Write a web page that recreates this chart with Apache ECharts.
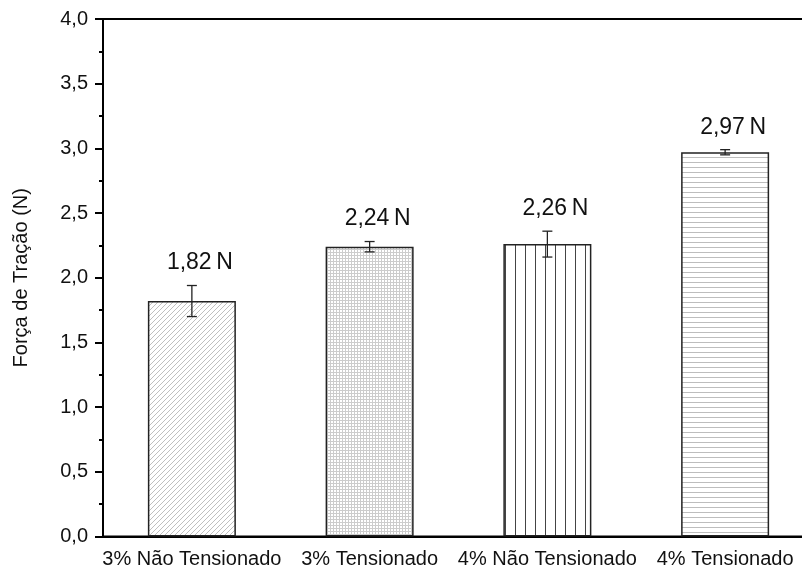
<!DOCTYPE html>
<html>
<head>
<meta charset="utf-8">
<script src="https://cdn.jsdelivr.net/npm/echarts@6/dist/echarts.min.js"></script>
<style>
  html, body { margin: 0; padding: 0; background: #fff; }
  #main { width: 802px; height: 572px; }
</style>
</head>
<body>
<div id="main"></div>
<script>
var categories = ['3% Não Tensionado', '3% Tensionado', '4% Não Tensionado', '4% Tensionado'];
var forces = [1.82, 2.24, 2.26, 2.97];
var errors = [0.12, 0.04, 0.10, 0.02];
var yTicks = [0, 0.5, 1, 1.5, 2, 2.5, 3, 3.5, 4];

var fontName = '"Liberation Sans", Arial, Helvetica, sans-serif';

// hachuras de cada barra
function makeTile(w, h, draw) {
  var c = document.createElement('canvas');
  c.width = w;
  c.height = h;
  var ctx = c.getContext('2d');
  ctx.fillStyle = '#fff';
  ctx.fillRect(0, 0, w, h);
  draw(ctx);
  return { image: c, repeat: 'repeat' };
}

var patterns = [
  makeTile(5, 5, function (ctx) {
    ctx.strokeStyle = '#b8b8b8';
    ctx.lineWidth = 0.9;
    ctx.beginPath();
    ctx.moveTo(-1, 6); ctx.lineTo(6, -1);
    ctx.moveTo(-1, 1); ctx.lineTo(1, -1);
    ctx.moveTo(4, 6); ctx.lineTo(6, 4);
    ctx.stroke();
  }),
  makeTile(3, 3, function (ctx) {
    ctx.fillStyle = '#cccccc';
    ctx.fillRect(0, 0, 3, 1);
    ctx.fillRect(0, 0, 1, 3);
  }),
  makeTile(10, 10, function (ctx) {
    ctx.fillStyle = '#444';
    ctx.fillRect(5, 0, 1, 10);
  }),
  makeTile(5, 5, function (ctx) {
    ctx.fillStyle = '#bdbdbd';
    ctx.fillRect(0, 2, 5, 1);
  })
];

function fmt(v, d) {
  return v.toFixed(d).replace('.', ',');
}

var barData = [];
var errData = [];
for (var i = 0; i < categories.length; i++) {
  barData.push({
    value: forces[i],
    itemStyle: { color: patterns[i] }
  });
  errData.push([i, forces[i], errors[i]]);
}

var myChart = echarts.init(document.getElementById('main'));

var option = {
  animation: false,
  grid: {
    left: 103,
    width: 711,
    top: 19,
    bottom: 35.5,
    show: true,
    borderColor: '#000',
    borderWidth: 2,
    containLabel: false,
    outerBoundsMode: 'none'
  },
  xAxis: [{
    type: 'category',
    data: categories,
    position: 'bottom',
    axisLine: { lineStyle: { color: '#000', width: 2 } },
    axisTick: { alignWithLabel: true, length: 8, lineStyle: { color: '#000', width: 2 } },
    axisLabel: { color: '#111', fontSize: 20, fontFamily: fontName, margin: 13, interval: 0 }
  }, {
    type: 'category',
    data: categories,
    position: 'bottom',
    axisLine: { show: false },
    axisTick: { length: 4, lineStyle: { color: '#000', width: 2 } },
    axisLabel: { show: false }
  }],
  yAxis: {
    type: 'value',
    min: yTicks[0],
    max: yTicks[yTicks.length - 1],
    interval: 0.5,
    name: 'Força de Tração (N)',
    nameLocation: 'middle',
    nameGap: 72,
    nameTextStyle: { color: '#111', fontSize: 20, fontFamily: fontName },
    axisLine: { show: true, lineStyle: { color: '#000', width: 2 } },
    axisTick: { show: true, length: 8, lineStyle: { color: '#000', width: 2 } },
    minorTick: { show: true, splitNumber: 2, length: 4, lineStyle: { color: '#000', width: 2 } },
    splitLine: { show: false },
    axisLabel: {
      color: '#111', fontSize: 20, fontFamily: fontName, margin: 15,
      formatter: function (v) { return fmt(v, 1); }
    }
  },
  series: [{
    type: 'bar',
    xAxisIndex: 0,
    barWidth: 88,
    data: barData,
    itemStyle: { borderColor: '#222', borderWidth: 1.5 }
  }, {
    type: 'custom',
    xAxisIndex: 0,
    data: errData,
    z: 5,
    renderItem: function (params, api) {
      var x = api.value(0);
      var v = api.value(1);
      var e = api.value(2);
      var hi = api.coord([x, v + e]);
      var lo = api.coord([x, v - e]);
      var stroke = { stroke: '#222', lineWidth: 1.3 };
      return {
        type: 'group',
        children: [
          { type: 'line', shape: { x1: hi[0], y1: hi[1], x2: lo[0], y2: lo[1] }, style: stroke },
          { type: 'line', shape: { x1: hi[0] - 5, y1: hi[1], x2: hi[0] + 5, y2: hi[1] }, style: stroke },
          { type: 'line', shape: { x1: lo[0] - 5, y1: lo[1], x2: lo[0] + 5, y2: lo[1] }, style: stroke },
          {
            type: 'text',
            style: {
              text: fmt(v, 2) + '\u2009N',
              x: hi[0] + 8,
              y: hi[1] - 11,
              align: 'center',
              verticalAlign: 'bottom',
              font: '23px ' + fontName,
              fill: '#111'
            }
          }
        ]
      };
    }
  }]
};

myChart.setOption(option);
</script>
</body>
</html>
